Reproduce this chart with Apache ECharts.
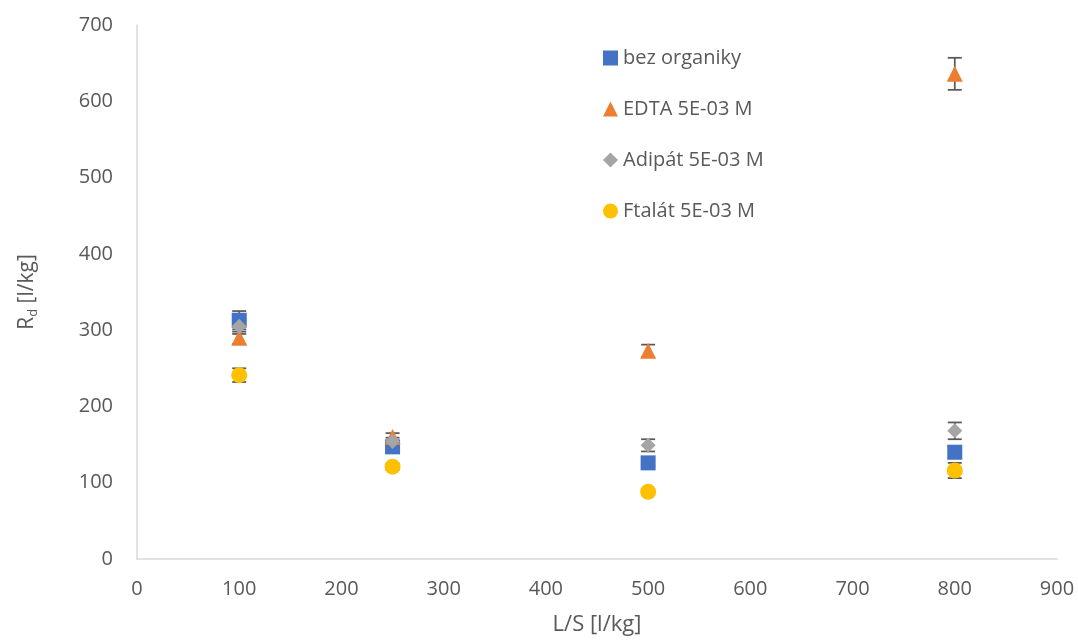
<!DOCTYPE html>
<html>
<head>
<meta charset="utf-8">
<script src="https://cdn.jsdelivr.net/npm/echarts@6/dist/echarts.min.js"></script>
<style>html,body{margin:0;padding:0;background:#fff;}#c{width:1078px;height:641px;}</style>
</head>
<body>
<div id="c"></div>
<script>
const xValues = [100, 250, 500, 800];
const bezOrganiky = [313, 147, 126, 140];
const bezOrganikyErr = [12, 4, 4, 8];
const edta = [290, 160, 273, 636];
const edtaErr = [8, 5, 8, 21];
const adipat = [305, 154, 149, 168];
const adipatErr = [10, 5, 8, 11];
const ftalat = [241, 121, 88, 116];
const ftalatErr = [9, 4, 4, 10];
const xTicks = [0, 100, 200, 300, 400, 500, 600, 700, 800, 900];
const yTicks = [0, 100, 200, 300, 400, 500, 600, 700];

const names = ['bez organiky', 'EDTA 5E-03 M', 'Adipát 5E-03 M', 'Ftalát 5E-03 M'];
const colors = ['#4472C4', '#ED7D31', '#A5A5A5', '#FFC000'];
const symbols = ['rect', 'triangle', 'diamond', 'circle'];
const sizes = [15, 16, 15, 16];
const vals = [bezOrganiky, edta, adipat, ftalat];
const errs = [bezOrganikyErr, edtaErr, adipatErr, ftalatErr];

const series = [];
vals.forEach((v, i) => {
  series.push({
    type: 'custom',
    z: 1,
    silent: true,
    data: xValues.map((x, k) => [x, v[k] - errs[i][k], v[k] + errs[i][k]]),
    renderItem: function (params, api) {
      const lo = api.coord([api.value(0), api.value(1)]);
      const hi = api.coord([api.value(0), api.value(2)]);
      const w = 7;
      const st = { stroke: '#595959', lineWidth: 1.75 };
      return {
        type: 'group',
        children: [
          { type: 'line', shape: { x1: lo[0], y1: lo[1], x2: hi[0], y2: hi[1] }, style: st },
          { type: 'line', shape: { x1: lo[0] - w, y1: lo[1], x2: lo[0] + w, y2: lo[1] }, style: st },
          { type: 'line', shape: { x1: hi[0] - w, y1: hi[1], x2: hi[0] + w, y2: hi[1] }, style: st }
        ]
      };
    }
  });
});
vals.forEach((v, i) => {
  series.push({
    name: names[i],
    type: 'scatter',
    z: 2,
    symbol: symbols[i],
    symbolSize: sizes[i],
    itemStyle: { color: colors[i], opacity: 1 },
    data: xValues.map((x, k) => [x, v[k]])
  });
});

const chart = echarts.init(document.getElementById('c'));
chart.setOption({
  animation: false,
  backgroundColor: '#fff',
  textStyle: { fontFamily: 'Open Sans, Noto Sans, sans-serif' },
  grid: { left: 137, right: 21, top: 25, bottom: 80 },
  legend: {
    data: names,
    orient: 'vertical',
    left: 598,
    top: 43,
    itemWidth: 15,
    itemHeight: 15,
    itemGap: 31,
    textStyle: { fontSize: 20, color: '#595959', fontFamily: 'Open Sans, Noto Sans, sans-serif' }
  },
  xAxis: {
    type: 'value',
    min: xTicks[0],
    max: xTicks[xTicks.length - 1],
    interval: 100,
    name: 'L/S [l/kg]',
    nameLocation: 'middle',
    nameGap: 55,
    nameTextStyle: { fontSize: 22, color: '#595959' },
    axisLine: { show: true, lineStyle: { color: '#D9D9D9', width: 1.5 } },
    axisTick: { show: false },
    splitLine: { show: false },
    axisLabel: { fontSize: 20, color: '#595959', margin: 20 }
  },
  yAxis: {
    type: 'value',
    min: yTicks[0],
    max: yTicks[yTicks.length - 1],
    interval: 100,
    name: '{a|R}{s|d}{a| [l/kg]}',
    nameLocation: 'middle',
    nameGap: 97,
    nameRotate: 90,
    nameTextStyle: {
      color: '#595959',
      rich: {
        a: { fontSize: 21, color: '#595959' },
        s: { fontSize: 13, color: '#595959', verticalAlign: 'bottom', padding: [12, 0, 0, 0] }
      }
    },
    axisLine: { show: true, lineStyle: { color: '#D9D9D9', width: 1.5 } },
    axisTick: { show: false },
    splitLine: { show: false },
    axisLabel: { fontSize: 20, color: '#595959', margin: 24 }
  },
  series: series
});
</script>
</body>
</html>
